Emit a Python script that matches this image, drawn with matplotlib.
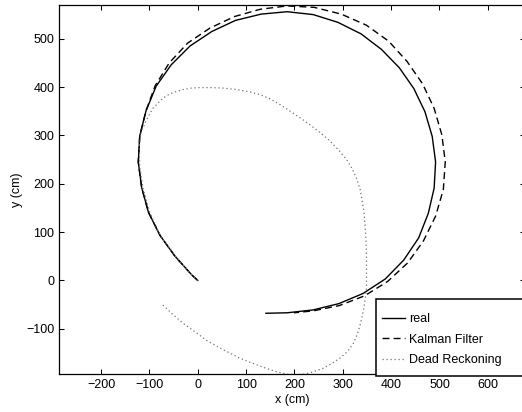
import matplotlib.pyplot as plt
from matplotlib.patches import Rectangle

plt.rcParams['font.family'] = ['Liberation Sans', 'DejaVu Sans']
plt.rcParams['font.size'] = 9

# trajectories (cm)
real_x = [0, -12, -47, -78, -102, -116, -123, -120, -107, -86, -55, -16, 29, 78, 131, 185, 239, 290, 338,
          380, 417, 447, 470, 485, 492, 489, 477, 457, 426, 388, 342, 292, 239, 185, 141]
real_y = [0, 11, 50, 93, 141, 192, 245, 299, 351, 402, 446, 485, 515, 538, 551, 556, 550, 534, 510,
          478, 440, 397, 349, 298, 245, 191, 139, 88, 42, 3, -27, -48, -61, -67, -68]

kalman_x = [0, -12, -47, -78, -102, -116, -123, -120, -107, -88, -59, -21, 25, 76, 129, 185, 241, 297, 349,
            395, 433, 465, 489, 505, 512, 508, 492, 467, 434, 393, 345, 293, 239, 199]
kalman_y = [0, 11, 50, 93, 141, 192, 245, 299, 351, 403, 450, 491, 522, 546, 561, 568, 565, 551, 528,
            495, 453, 407, 356, 301, 245, 188, 133, 82, 36, -2, -32, -52, -63, -67]

dr_x = [0, -12, -46, -77, -99, -113, -120, -121, -117, -106, -93, -80, -72, -58, -44, -30, -13, 4, 28, 52, 80,
        108, 130, 149, 170, 190, 211, 232, 253, 273, 292, 308, 320, 329, 336, 340, 344, 346, 348, 349, 349,
        349, 347, 344, 340, 335, 329, 322, 310, 294, 277, 259, 242, 225, 205, 184, 163, 142, 115, 87, 52,
        18, -6, -30, -52, -72]
dr_y = [0, 11, 50, 92, 140, 190, 235, 277, 308, 332, 356, 369, 377, 386, 391, 395, 398, 399, 399, 398, 395,
        390, 384, 376, 364, 351, 337, 322, 306, 289, 269, 250, 230, 210, 188, 165, 140, 115, 85, 49, 15,
        -13, -35, -55, -75, -96, -114, -130, -147, -161, -172, -182, -188, -193, -195, -194, -189, -182, -172,
        -161, -143, -124, -106, -89, -70, -51]

labels = ['real', 'Kalman Filter', 'Dead Reckoning']

fig = plt.figure(figsize=(5.22, 4.12), dpi=100)
# axes run a little past the right edge, like the cropped original
ax = fig.add_axes([0.1121, 0.093, 0.8937, 0.895])

ax.plot(real_x, real_y, color='black', lw=1.0, label=labels[0])
ax.plot(kalman_x, kalman_y, color='black', lw=1.0, dashes=(5, 3), label=labels[1])
ax.plot(dr_x, dr_y, color='0.45', lw=0.9, linestyle=(0, (1, 2.2)), label=labels[2])

ax.set_xlim(-288, 677)
ax.set_ylim(-193, 570)
ax.set_xticks(range(-200, 700, 100))
ax.set_yticks(range(-100, 600, 100))
ax.tick_params(direction='in', top=True, right=True, length=3.6, width=0.75)
ax.tick_params(axis='x', pad=4)
ax.tick_params(axis='y', pad=3)
for sp in ax.spines.values():
    sp.set_linewidth(0.9)

ax.set_xlabel('x (cm)', labelpad=2)
ax.set_ylabel('y (cm)', labelpad=2)

# legend box, also cut by the right edge
box = Rectangle((376 / 522, 0.0862), 0.3, 0.1881, transform=fig.transFigure, facecolor='white',
                edgecolor='black', lw=1.1, zorder=4.5, clip_on=False)
ax.add_patch(box)
ax.legend(frameon=False, loc='upper left', bbox_to_anchor=(381.7 / 522, 0.2403), bbox_transform=fig.transFigure,
          borderaxespad=0, borderpad=0, handlelength=1.85, handletextpad=0.32, labelspacing=0.69)

fig.savefig('out.png', dpi=100)
